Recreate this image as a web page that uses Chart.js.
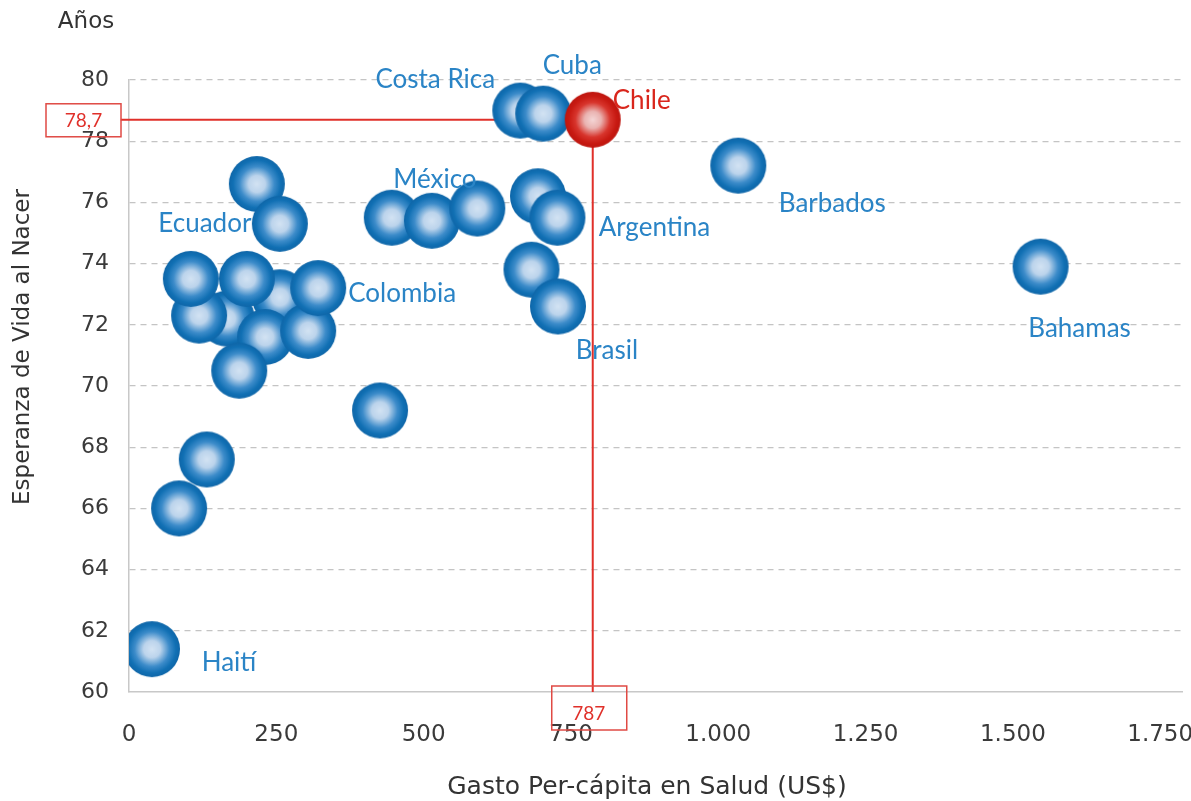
<!DOCTYPE html>
<html>
<head>
<meta charset="utf-8">
<script src="https://cdn.jsdelivr.net/npm/chart.js@4.4.1/dist/chart.umd.min.js"></script>
<style>
  html, body { margin: 0; padding: 0; background: #fff; }
  #wrap { width: 1191px; height: 801px; }
</style>
</head>
<body>
<div id="wrap"><canvas id="saludChart"></canvas></div>
<script>
// Gasto per cápita en salud (US$) vs esperanza de vida al nacer (años)
const paises = ['Haití', '', '', '', '', '', '', '', '', '', '', 'Colombia', '', 'Ecuador', '', '', 'México', '', '', 'Brasil', '', 'Argentina', 'Costa Rica', 'Cuba', 'Barbados', 'Bahamas'];
const gastoSalud = [39, 85, 132, 166, 119, 105, 256, 200, 231, 187, 304, 321, 217, 256, 426, 446, 514, 591, 683, 728, 694, 727, 664, 703, 1034, 1547];
const esperanzaVida = [61.4, 66.0, 67.6, 72.2, 72.3, 73.5, 72.9, 73.5, 71.6, 70.5, 71.8, 73.2, 76.6, 75.3, 69.2, 75.5, 75.4, 75.8, 73.8, 72.6, 76.2, 75.5, 79.0, 78.9, 77.2, 73.9];

const chileNombre = 'Chile';
const chileGasto = 787;
const chileVida = 78.7;

const xTicks = [0, 250, 500, 750, 1000, 1250, 1500, 1750];
const yTicks = [60, 62, 64, 66, 68, 70, 72, 74, 76, 78, 80];

// where each country name sits relative to its bubble (px)
const labelOffsets = {
  'Haití': [77, 13], 'Colombia': [84, 6], 'Ecuador': [-75, 0], 'México': [3, -41],
  'Brasil': [49, 44], 'Argentina': [97, 10], 'Costa Rica': [-85, -31], 'Cuba': [29, -48],
  'Barbados': [94, 38], 'Bahamas': [39, 62], 'Chile': [49, -19]
};

function makeBall(r, stops) {
  const c = document.createElement('canvas');
  c.width = c.height = r * 2 + 2;
  const g = c.getContext('2d');
  const m = r + 1;
  const grad = g.createRadialGradient(m, m, 0, m, m, r);
  stops.forEach(s => grad.addColorStop(s[0], s[1]));
  g.fillStyle = grad;
  g.beginPath();
  g.arc(m, m, r, 0, Math.PI * 2);
  g.fill();
  return c;
}

const blueBall = makeBall(28, [[0, '#d3e3f3'], [0.3, '#bcd4ec'], [0.62, '#3d8cca'], [0.85, '#1170b4'], [1, '#0f66a8']]);
const redBall = makeBall(28, [[0, '#f4d6d6'], [0.3, '#eab3b1'], [0.62, '#d8352d'], [0.85, '#c81a12'], [1, '#bd160f']]);

const fmtMiles = v => String(v).replace(/\B(?=(\d{3})+(?!\d))/g, '.');

const textPlugin = {
  id: 'textos',
  afterDatasetsDraw(chart) {
    const ctx = chart.ctx;
    const xs = chart.scales.x, ys = chart.scales.y;
    ctx.save();
    ctx.textAlign = 'center';
    ctx.textBaseline = 'middle';

    // country names
    ctx.font = '26px Lato';
    const meta = chart.getDatasetMeta(1);
    paises.forEach((p, i) => {
      if (!p) return;
      const el = meta.data[i];
      const off = labelOffsets[p];
      ctx.fillStyle = '#2a84c6';
      ctx.fillText(p, el.x + off[0], el.y + off[1]);
    });
    const chileEl = chart.getDatasetMeta(0).data[0];
    ctx.fillStyle = '#d9261c';
    ctx.fillText(chileNombre, chileEl.x + labelOffsets.Chile[0], chileEl.y + labelOffsets.Chile[1]);

    // value boxes for Chile
    const px = xs.getPixelForValue(chileGasto);
    const py = ys.getPixelForValue(chileVida);
    ctx.strokeStyle = '#e04a44';
    ctx.lineWidth = 1.5;
    ctx.font = '19px Lato';
    ctx.fillStyle = '#e0302a';
    ctx.strokeRect(46, py - 16, 75, 33);
    ctx.fillText(String(chileVida).replace('.', ','), 83.5, py + 1);
    ctx.strokeRect(px - 41, ys.bottom - 6, 75, 44);
    ctx.fillText(String(chileGasto), px - 4, ys.bottom + 22);

    // axis captions
    ctx.fillStyle = '#333';
    ctx.font = '23px "DejaVu Sans"';
    ctx.fillText('Años', 86, 22);
    ctx.font = '25px "DejaVu Sans"';
    ctx.fillText('Gasto Per-cápita en Salud (US$)', 647, 787);
    ctx.translate(23, 347);
    ctx.rotate(-Math.PI / 2);
    ctx.font = '23px "DejaVu Sans"';
    ctx.fillText('Esperanza de Vida al Nacer', 0, 0);
    ctx.restore();
  }
};

const ctx = document.getElementById('saludChart').getContext('2d');

const saludChart = new Chart(ctx, {
  type: 'scatter',
  data: {
    datasets: [
      {
        label: chileNombre,
        data: [{ x: chileGasto, y: chileVida }],
        pointStyle: redBall,
        pointRadius: 28,
        order: 1
      },
      {
        label: 'Países',
        data: gastoSalud.map((g, i) => ({ x: g, y: esperanzaVida[i] })),
        pointStyle: blueBall,
        pointRadius: 28,
        order: 2
      },
      {
        type: 'line',
        label: 'ref-h',
        data: [{ x: -14, y: chileVida }, { x: chileGasto, y: chileVida }],
        borderColor: '#e0302a',
        borderWidth: 2,
        pointRadius: 0,
        clip: false,
        order: 3
      },
      {
        type: 'line',
        label: 'ref-v',
        data: [{ x: chileGasto, y: 60 }, { x: chileGasto, y: chileVida }],
        borderColor: '#e0302a',
        borderWidth: 2,
        pointRadius: 0,
        clip: false,
        order: 3
      }
    ]
  },
  options: {
    responsive: true,
    maintainAspectRatio: false,
    animation: false,
    layout: { autoPadding: false, padding: { top: 80, right: 9, left: 0, bottom: 0 } },
    plugins: {
      legend: { display: false },
      tooltip: { enabled: false }
    },
    scales: {
      x: {
        type: 'linear',
        min: 0,
        max: 1787,
        afterBuildTicks: s => { s.ticks = xTicks.map(v => ({ value: v })); },
        afterFit: s => { s.height = 109; s.paddingLeft = 0; s.paddingRight = 0; },
        grid: { display: false, drawTicks: false },
        border: { display: true, color: '#c8c8c8', width: 1.5 },
        ticks: {
          padding: 29,
          color: '#3a3a3a',
          font: { family: 'DejaVu Sans', size: 23 },
          callback: v => fmtMiles(v)
        }
      },
      y: {
        min: 60,
        max: 80,
        afterBuildTicks: s => { s.ticks = yTicks.map(v => ({ value: v })); },
        afterFit: s => { s.width = 129; s.paddingTop = 0; s.paddingBottom = 0; },
        grid: {
          drawTicks: false,
          color: c => (c.tick && c.tick.value === 60 ? 'rgba(0,0,0,0)' : '#c4c4c4'),
          lineWidth: 1.2
        },
        border: { display: true, color: '#c8c8c8', width: 1.5, dash: [6, 5] },
        ticks: {
          padding: 20,
          color: '#3a3a3a',
          font: { family: 'DejaVu Sans', size: 22 }
        }
      }
    }
  },
  plugins: [textPlugin]
});
</script>
</body>
</html>
